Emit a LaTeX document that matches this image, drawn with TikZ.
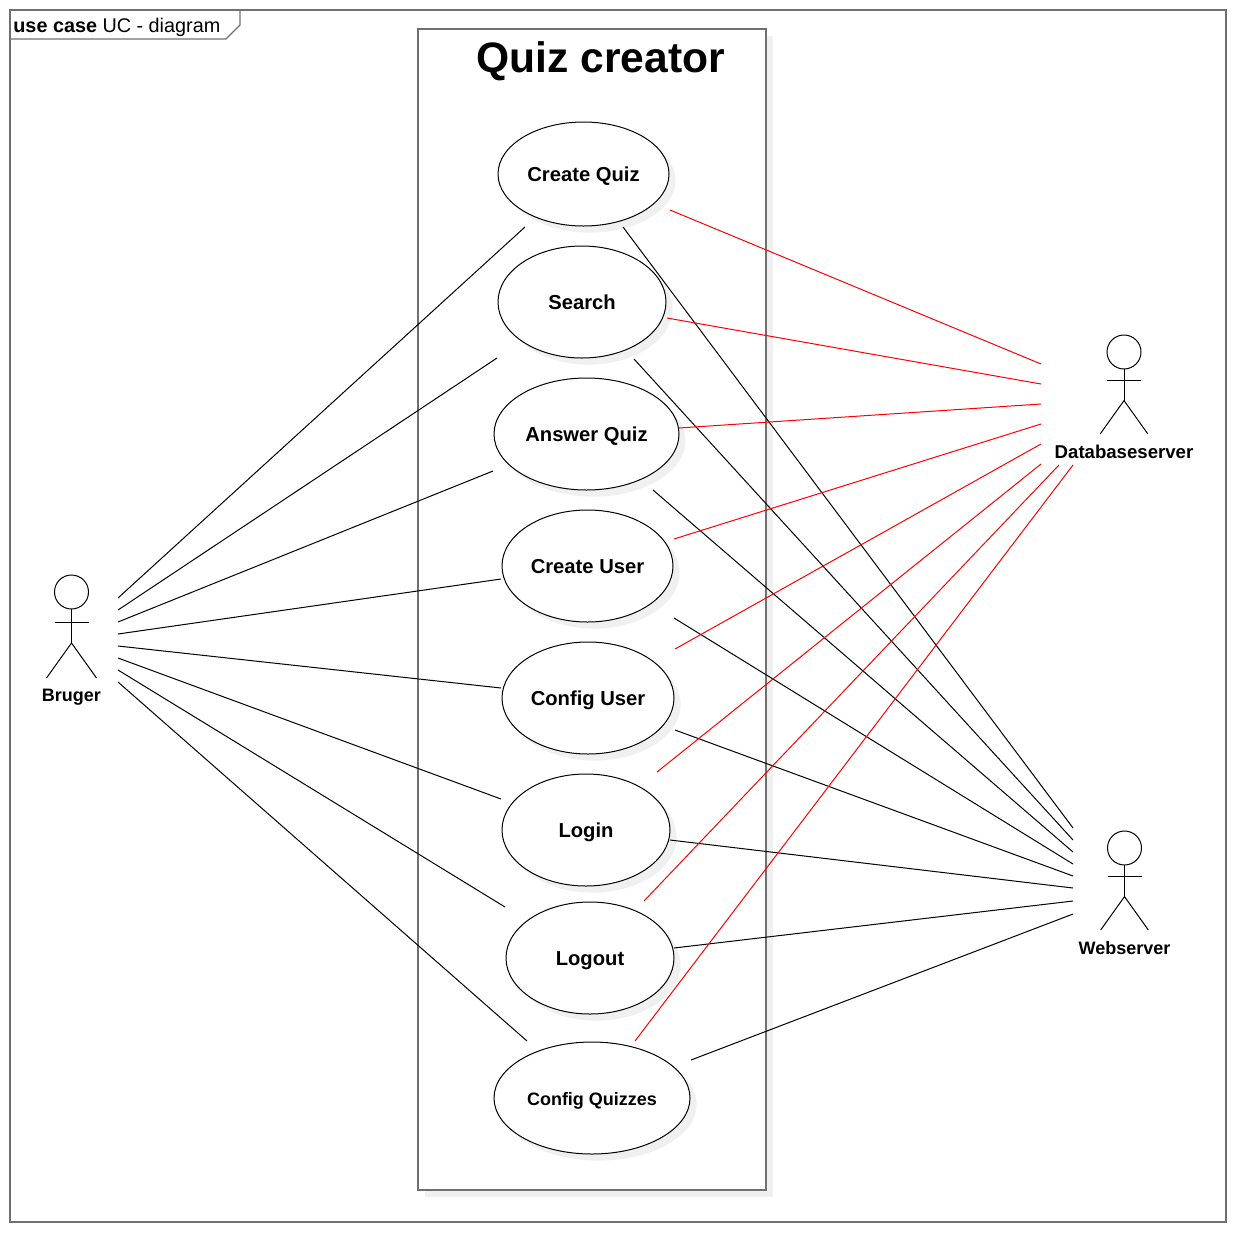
\documentclass[tikz,border=0pt]{standalone}
\usepackage{fontspec}
\setmainfont{Liberation Sans}
\usetikzlibrary{
  shapes,
  shadows,      % Style "general shadow"
  positioning,  % Function "of" (e.g. [below=of x])
  calc,
}
\definecolor{framegray}{HTML}{707070}
\definecolor{shadowgray}{HTML}{F0F0F0}
\newcommand{\fsize}[1]{\fontsize{#1}{#1}\selectfont}
% Stick figure: name, x of the head, y of the head, label, stretch
\newcommand{\actor}[5]{
  \node (#1) [actor head] at (#2,#3) {};
  \coordinate (#1 neck) at (#1.south);
  \coordinate (#1 hip) at ($(#1)+(0,51*#5)$);
  \draw[actor line] (#1 neck) -- (#1 hip);
  \draw[actor line] ($(#1)+(-17,30*#5)$) -- ($(#1)+(17,30*#5)$);
  \draw[actor line] ($(#1)+(-25*#5,86*#5)$) -- (#1 hip) -- ($(#1)+(25*#5,86*#5)$);
  \node (#1 label) [actor text] at ($(#1)+(0,105*#5)$) {#4};
}
\tikzset{
  x=0.5pt,
  y=-0.5pt,
  frame box/.style={
    draw=framegray,
    line width=0.65pt,
    inner sep=0pt,
    outer sep=0pt,
    rectangle
  },
  use case/.style={
    draw=black,
    fill=white,
    line width=0.5pt,
    inner sep=0pt,
    outer sep=0pt,
    ellipse,
    font=\fsize{10.1}\bfseries,
    text height=7.7pt,
    text depth=0pt,
    general shadow={fill=shadowgray,shadow xshift=3.3pt,shadow yshift=-3.3pt}
  },
  actor head/.style={
    draw=black,
    line width=0.5pt,
    circle,
    inner sep=0pt,
    outer sep=0pt,
    minimum size=17pt
  },
  actor line/.style={
    draw=black,
    line width=0.5pt
  },
  actor text/.style={
    inner sep=0pt,
    font=\fsize{9}\bfseries
  },
  black link/.style={
    draw=black,
    line width=0.5pt
  },
  red link/.style={
    draw=red,
    line width=0.5pt
  }
}
\begin{document}
\begin{tikzpicture}
\useasboundingbox (0,0) rectangle (1236,1232);
\node (frame) [frame box,minimum width=608pt,minimum height=606pt] at (618,616) {};
\coordinate (tab a) at (10,39);
\coordinate (tab b) at (226,39);
\coordinate (tab c) at (240,25);
\coordinate (tab d) at (240,10);
\draw[frame box] (tab a) -- (tab b) -- (tab c) -- (tab d);
\node (tab text) [anchor=base west,inner sep=0pt,font=\fsize{9.9}] at (13,32) {\textbf{use case} UC - diagram};

% System boundary
\node (system) [frame box,fill=white,minimum width=174pt,minimum height=580.5pt,
  general shadow={fill=shadowgray,shadow xshift=3.3pt,shadow yshift=-3.3pt}] at (592,609.5) {};
\node (system title) [anchor=base west,inner sep=0pt,font=\fsize{21.3}\bfseries] at (476,72) {Quiz creator};

% Use cases
\node (createquiz)  [use case,minimum width=85.5pt,minimum height=52pt] at (583.5,174) {Create Quiz};
\node (search)      [use case,minimum width=84pt,minimum height=56pt] at (582,302) {Search};
\node (answerquiz)  [use case,minimum width=92.5pt,minimum height=56pt] at (586.5,434) {Answer Quiz};
\node (createuser)  [use case,minimum width=85.5pt,minimum height=56pt] at (587.5,566) {Create User};
\node (configuser)  [use case,minimum width=86pt,minimum height=56pt] at (588,698) {Config User};
\node (login)       [use case,minimum width=84pt,minimum height=56pt] at (586,830) {Login};
\node (logout)      [use case,minimum width=84pt,minimum height=56pt] at (590,958) {Logout};
\node (configquiz)  [use case,minimum width=98pt,minimum height=56pt,font=\fsize{9}\bfseries,text height=7pt] at (592,1098) {Config Quizzes};

% Actors
\actor{bruger}{71.5}{592}{Bruger}{1}
\actor{database}{1124}{352}{\fsize{9.3}Databaseserver}{0.953}
\actor{webserver}{1124.5}{848}{Webserver}{0.953}

% Free ends of the connectors
\foreach \n/\y in {1/598,2/610,3/622,4/634,5/646,6/658,7/670,8/682}
  \coordinate (bruger p\n) at (118,\y);
\foreach \n/\x/\y in {1/1041/364,2/1041/384,3/1041/404,4/1041/424,5/1041/444,6/1041/464,7/1059/465,8/1073/465}
  \coordinate (database p\n) at (\x,\y);
\foreach \n/\y in {1/828,2/840,3/852,4/864,5/876,6/888,7/901,8/914}
  \coordinate (webserver p\n) at (1073,\y);

\foreach \n/\x/\y in {1/525/227,2/497/358,3/493/471,4/501/579,5/501/688,6/501/799,7/505/907,8/527/1041}
  \coordinate (left \n) at (\x,\y);
\foreach \n/\x/\y in {1/670/210,2/667/318,3/679/428,4/674/539,5/675/649,6/657/772,7/644/901,8/635/1041}
  \coordinate (upper \n) at (\x,\y);
\foreach \n/\x/\y in {1/623/227,2/634/359,3/653/490,4/674/618,5/675/730,6/670/840,7/674/948,8/691/1060}
  \coordinate (lower \n) at (\x,\y);

% Connectors
\foreach \n in {1,...,8} {
  \draw[black link] (bruger p\n) -- (left \n);
  \draw[black link] (lower \n) -- (webserver p\n);
  \draw[red link] (upper \n) -- (database p\n);
}
\end{tikzpicture}
\end{document}
